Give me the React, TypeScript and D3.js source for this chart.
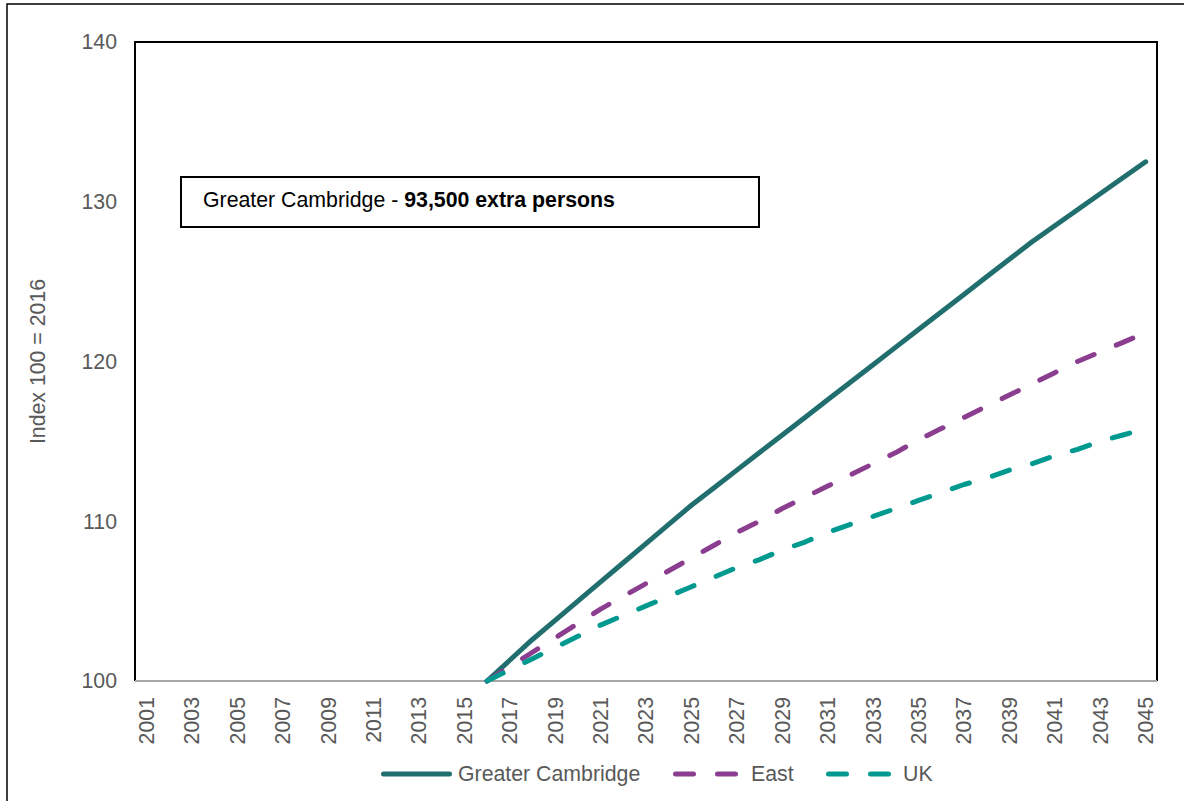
import React, { useEffect, useRef } from "react";
import * as d3 from "d3";

const years = [
  2001, 2002, 2003, 2004, 2005, 2006, 2007, 2008, 2009, 2010,
  2011, 2012, 2013, 2014, 2015, 2016, 2017, 2018, 2019, 2020,
  2021, 2022, 2023, 2024, 2025, 2026, 2027, 2028, 2029, 2030,
  2031, 2032, 2033, 2034, 2035, 2036, 2037, 2038, 2039, 2040,
  2041, 2042, 2043, 2044, 2045,
];

// projections start at 2016 (index = 100)
const projectionYears = [
  2016, 2017, 2018, 2019, 2020, 2021, 2022, 2023, 2024, 2025,
  2026, 2027, 2028, 2029, 2030, 2031, 2032, 2033, 2034, 2035,
  2036, 2037, 2038, 2039, 2040, 2041, 2042, 2043, 2044, 2045,
];

const greaterCambridge = [
  100, 101.3, 102.6, 103.8, 105.0, 106.2, 107.4, 108.6, 109.8, 111.0,
  112.1, 113.2, 114.3, 115.4, 116.5, 117.6, 118.7, 119.8, 120.9, 122.0,
  123.1, 124.2, 125.3, 126.4, 127.5, 128.5, 129.5, 130.5, 131.5, 132.5,
];

const east = [
  100, 100.9, 101.8, 102.7, 103.6, 104.5, 105.3, 106.1, 106.9, 107.7,
  108.5, 109.3, 110.0, 110.8, 111.5, 112.2, 112.9, 113.6, 114.3, 115.1,
  115.8, 116.5, 117.2, 117.9, 118.6, 119.3, 120.0, 120.6, 121.2, 121.8,
];

const uk = [
  100, 100.7, 101.4, 102.1, 102.8, 103.5, 104.1, 104.7, 105.3, 105.9,
  106.5, 107.1, 107.6, 108.2, 108.7, 109.3, 109.8, 110.3, 110.8, 111.3,
  111.8, 112.3, 112.7, 113.2, 113.6, 114.1, 114.5, 115.0, 115.4, 115.8,
];

const yTicks = [100, 110, 120, 130, 140];

const seriesNames = ["Greater Cambridge", "East", "UK"];
const seriesColors = ["#216E6F", "#8B3E8F", "#00998F"];

const FONT = "'Liberation Sans', Arial, sans-serif";
const FS = "21.3px";
const DASH = "18,24";

export default function App() {
  const svgRef = useRef<SVGSVGElement | null>(null);

  useEffect(() => {
    if (!svgRef.current) return;
    const svg = d3.select(svgRef.current);
    svg.selectAll("*").remove();

    const width = 1184;
    const height = 801;
    const plot = { left: 135, top: 42, right: 1157, bottom: 681 };

    // outer chart frame
    svg.append("rect")
      .attr("x", 7)
      .attr("y", 4)
      .attr("width", width + 10)
      .attr("height", height + 10)
      .attr("fill", "white")
      .attr("stroke", "#000")
      .attr("stroke-width", 1.5);

    const x = d3.scaleBand<string>()
      .domain(years.map(String))
      .range([plot.left, plot.right])
      .padding(0);

    const y = d3.scaleLinear()
      .domain([100, 140])
      .range([plot.bottom, plot.top]);

    const cx = (yr: number) => (x(String(yr)) ?? 0) + x.bandwidth() / 2;

    // plot area border (left / top / right)
    svg.append("path")
      .attr("d", `M${plot.left},${plot.bottom} V${plot.top} H${plot.right} V${plot.bottom}`)
      .attr("fill", "none")
      .attr("stroke", "#000")
      .attr("stroke-width", 2);

    // x axis line
    svg.append("line")
      .attr("x1", plot.left)
      .attr("x2", plot.right)
      .attr("y1", plot.bottom)
      .attr("y2", plot.bottom)
      .attr("stroke", "#A6A6A6")
      .attr("stroke-width", 2);

    // y tick labels
    svg.selectAll(".ytick")
      .data(yTicks)
      .enter()
      .append("text")
      .attr("class", "ytick")
      .attr("x", 117)
      .attr("y", d => y(d))
      .attr("dy", "0.35em")
      .attr("text-anchor", "end")
      .attr("font-family", FONT)
      .attr("font-size", FS)
      .attr("fill", "#595959")
      .text(d => d);

    // y axis title
    svg.append("text")
      .attr("transform", `translate(45, ${(plot.top + plot.bottom) / 2}) rotate(-90)`)
      .attr("text-anchor", "middle")
      .attr("font-family", FONT)
      .attr("font-size", FS)
      .attr("fill", "#595959")
      .text("Index 100 = 2016");

    // x tick labels, every other year
    svg.selectAll(".xtick")
      .data(years.filter((_, i) => i % 2 === 0))
      .enter()
      .append("text")
      .attr("class", "xtick")
      .attr("transform", d => `translate(${cx(d)}, 697) rotate(-90)`)
      .attr("dy", "0.35em")
      .attr("text-anchor", "end")
      .attr("font-family", FONT)
      .attr("font-size", FS)
      .attr("fill", "#595959")
      .text(d => d);

    const seriesData = [greaterCambridge, east, uk];
    const line = d3.line<number>()
      .x((_, i) => cx(projectionYears[i]))
      .y(d => y(d));

    seriesData.forEach((vals, k) => {
      svg.append("path")
        .datum(vals)
        .attr("d", line)
        .attr("fill", "none")
        .attr("stroke", seriesColors[k])
        .attr("stroke-width", 5)
        .attr("stroke-linecap", "round")
        .attr("stroke-linejoin", "round")
        .attr("stroke-dasharray", k === 0 ? null : DASH);
    });

    // annotation box
    svg.append("rect")
      .attr("x", 181)
      .attr("y", 177)
      .attr("width", 578)
      .attr("height", 50)
      .attr("fill", "white")
      .attr("stroke", "#000")
      .attr("stroke-width", 2);

    const note = svg.append("text")
      .attr("x", 203)
      .attr("y", 206.5)
      .attr("font-family", FONT)
      .attr("font-size", FS)
      .attr("fill", "#000");
    note.append("tspan").text("Greater Cambridge - ");
    note.append("tspan").attr("font-weight", "bold").text("93,500 extra persons");

    // legend
    const legendY = 774;
    const legendItems = [
      { x1: 383.5, x2: 449.5, tx: 458 },
      { x1: 675.5, x2: 737, tx: 751 },
      { x1: 828.5, x2: 890, tx: 903 },
    ];
    legendItems.forEach((it, k) => {
      svg.append("line")
        .attr("x1", it.x1)
        .attr("x2", it.x2)
        .attr("y1", legendY)
        .attr("y2", legendY)
        .attr("stroke", seriesColors[k])
        .attr("stroke-width", 5)
        .attr("stroke-linecap", "round")
        .attr("stroke-dasharray", k === 0 ? null : DASH);
      svg.append("text")
        .attr("x", it.tx)
        .attr("y", legendY)
        .attr("dy", "0.35em")
        .attr("font-family", FONT)
        .attr("font-size", FS)
        .attr("fill", "#595959")
        .text(seriesNames[k]);
    });
  }, []);

  return (
    <svg
      ref={svgRef}
      width={1184}
      height={801}
      style={{ position: "absolute", left: 0, top: 0, display: "block" }}
    />
  );
}
